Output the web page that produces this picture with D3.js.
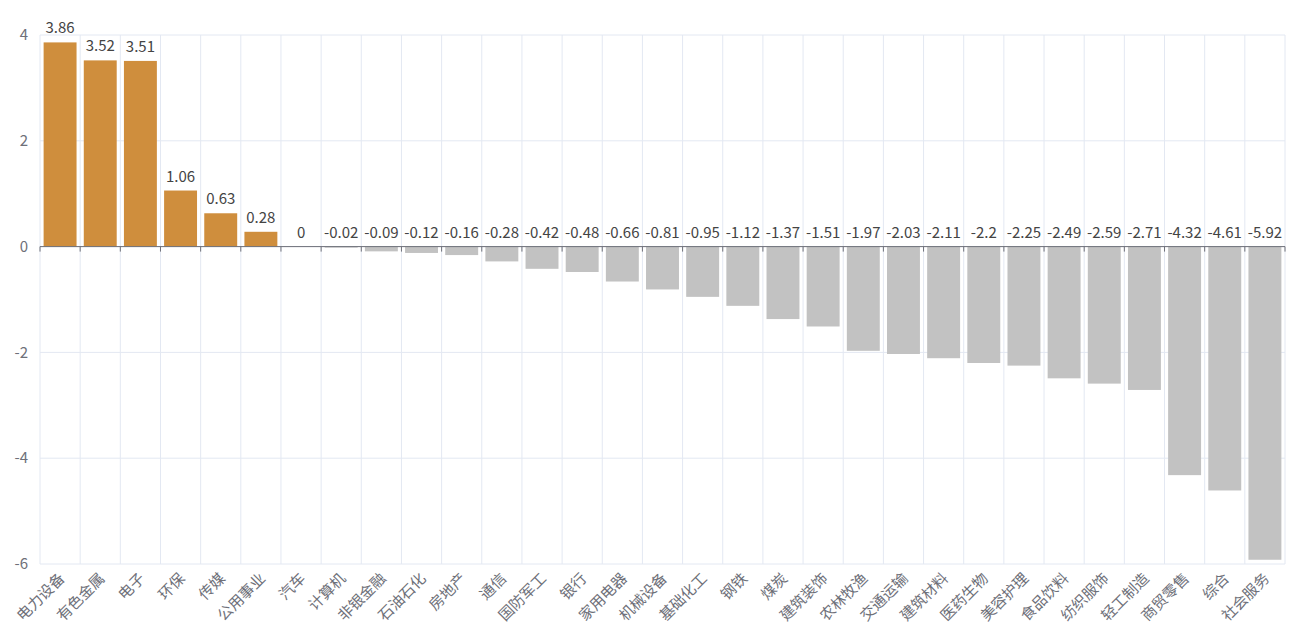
<!DOCTYPE html>
<html>
<head>
<meta charset="utf-8">
<script src="https://cdn.jsdelivr.net/npm/d3@7"></script>
<style>
  body { margin: 0; background: #fff; }
  text { font-family: "Noto Sans CJK SC", "Noto Sans", sans-serif; }
</style>
</head>
<body>
<svg id="chart" width="1296" height="639"></svg>
<script>
const categories = ["电力设备", "有色金属", "电子", "环保", "传媒", "公用事业", "汽车", "计算机", "非银金融", "石油石化",
    "房地产", "通信", "国防军工", "银行", "家用电器", "机械设备", "基础化工", "钢铁", "煤炭", "建筑装饰",
    "农林牧渔", "交通运输", "建筑材料", "医药生物", "美容护理", "食品饮料", "纺织服饰", "轻工制造", "商贸零售", "综合", "社会服务"];
const values = [3.86, 3.52, 3.51, 1.06, 0.63, 0.28, 0, -0.02, -0.09, -0.12,
    -0.16, -0.28, -0.42, -0.48, -0.66, -0.81, -0.95, -1.12, -1.37, -1.51,
    -1.97, -2.03, -2.11, -2.2, -2.25, -2.49, -2.59, -2.71, -4.32, -4.61, -5.92];
const yTicks = [-6, -4, -2, 0, 2, 4];

const svg = d3.select("#chart");
const plotLeft = 40, plotRight = 1285, plotTop = 35, plotBottom = 564;

const xScale = d3.scaleBand()
    .domain(categories)
    .range([plotLeft, plotRight])
    .paddingInner(0.18)
    .paddingOuter(0.09);

const xOuter = d3.scaleBand()
    .domain(categories)
    .range([plotLeft, plotRight]);

const yScale = d3.scaleLinear()
    .domain([-6, 4])
    .range([plotBottom, plotTop]);

// horizontal grid
svg.append("g")
    .selectAll("line")
    .data(yTicks)
    .enter()
    .append("line")
    .attr("x1", plotLeft)
    .attr("x2", plotRight)
    .attr("y1", d => yScale(d))
    .attr("y2", d => yScale(d))
    .attr("stroke", "#E3E8F2")
    .attr("stroke-width", 1);

// vertical grid at category boundaries
const bounds = categories.map(c => xOuter(c)).concat([plotRight]);
svg.append("g")
    .selectAll("line")
    .data(bounds)
    .enter()
    .append("line")
    .attr("x1", d => d)
    .attr("x2", d => d)
    .attr("y1", plotTop)
    .attr("y2", plotBottom)
    .attr("stroke", "#E3E8F2")
    .attr("stroke-width", 1);

// y labels
svg.append("g")
    .selectAll("text")
    .data(yTicks)
    .enter()
    .append("text")
    .attr("x", plotLeft - 12)
    .attr("y", d => yScale(d))
    .attr("dy", "0.35em")
    .attr("text-anchor", "end")
    .attr("font-size", 15)
    .attr("fill", "#6E7079")
    .text(d => d);

// bars
svg.append("g")
    .selectAll("rect")
    .data(values)
    .enter()
    .append("rect")
    .attr("x", (d, i) => xScale(categories[i]))
    .attr("width", xScale.bandwidth())
    .attr("y", d => yScale(Math.max(d, 0)))
    .attr("height", d => Math.abs(yScale(d) - yScale(0)))
    .attr("fill", d => d > 0 ? "#CF8E3D" : "#C2C2C2");

// zero axis line with ticks
const zeroY = yScale(0);
svg.append("line")
    .attr("x1", plotLeft)
    .attr("x2", plotRight)
    .attr("y1", zeroY)
    .attr("y2", zeroY)
    .attr("stroke", "#6E7079")
    .attr("stroke-width", 1);
svg.append("g")
    .selectAll("line")
    .data(bounds)
    .enter()
    .append("line")
    .attr("x1", d => d)
    .attr("x2", d => d)
    .attr("y1", zeroY)
    .attr("y2", zeroY + 5)
    .attr("stroke", "#6E7079")
    .attr("stroke-width", 1);

// value labels
svg.append("g")
    .selectAll("text")
    .data(values)
    .enter()
    .append("text")
    .attr("x", (d, i) => xOuter(categories[i]) + xOuter.bandwidth() / 2)
    .attr("y", d => yScale(Math.max(d, 0)) - 9)
    .attr("text-anchor", "middle")
    .attr("font-size", 15)
    .attr("fill", "#444")
    .text(d => d);

// category labels, rotated
svg.append("g")
    .selectAll("text")
    .data(categories)
    .enter()
    .append("text")
    .attr("transform", d => `translate(${xOuter(d) + xOuter.bandwidth() / 2 - 2},${plotBottom + 8}) rotate(-45)`)
    .attr("text-anchor", "end")
    .attr("dy", "0.7em")
    .attr("font-size", 15)
    .attr("fill", "#6E7079")
    .text(d => d);
</script>
</body>
</html>
